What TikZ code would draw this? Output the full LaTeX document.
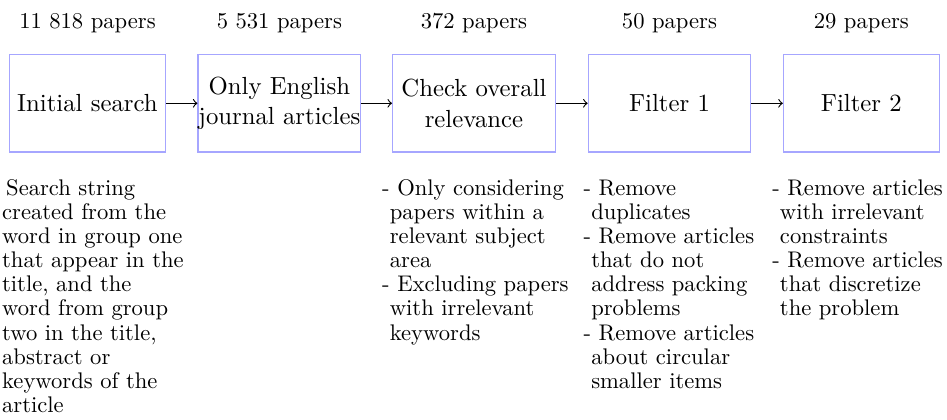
\documentclass[tikz,border=0pt]{standalone}
\tikzset{
  stage/.style={draw=blue!35, line width=0.5pt, inner sep=0pt, align=center,
    font=\fontsize{10.95}{13.6}\selectfont, minimum height=43.05pt},
  count/.style={anchor=base, inner sep=0pt},
  note/.style={anchor=base west, inner sep=0pt},
  flow/.style={->, line width=0.5pt}
}
\newcommand{\notetext}[1]{\parbox[t]{95pt}{\raggedright\baselineskip=10.7pt #1}}
\newcommand{\ind}{\hspace*{3.4pt}}
\begin{document}
\begin{tikzpicture}
\useasboundingbox (0,0) rectangle (419pt,-185.4pt);
% stages
\node[stage, minimum width=69.2pt] (b1) at (38.7pt,-45.7pt) {Initial search};
\node[stage, minimum width=72.0pt] (b2) at (123.6pt,-45.7pt) {Only English\\journal articles};
\node[stage, minimum width=72.0pt] (b3) at (209.7pt,-45.7pt) {Check overall\\relevance};
\node[stage, minimum width=71.9pt] (b4) at (296.2pt,-45.7pt) {Filter 1};
\node[stage, minimum width=69.0pt] (b5) at (381.1pt,-45.7pt) {Filter 2};
% arrows
\draw[flow] (b1) -- (b2);
\draw[flow] (b2) -- (b3);
\draw[flow] (b3) -- (b4);
\draw[flow] (b4) -- (b5);
% counts
\node[count] (n1) at (38.7pt,-12.4pt) {11 818 papers};
\node[count] (n2) at (123.6pt,-12.4pt) {5 531 papers};
\node[count] (n3) at (209.7pt,-12.4pt) {372 papers};
\node[count] (n4) at (296.2pt,-12.4pt) {50 papers};
\node[count] (n5) at (381.1pt,-12.4pt) {29 papers};
% notes
\node[note] (c1) at (0.75pt,-86.3pt) {\notetext{\hspace*{1.8pt}Search string\\
created from the\\
word in group one\\
that appear in the\\
title, and the\\
word from group\\
two in the title,\\
abstract or\\
keywords of the\\
article}};
\node[note] (c3) at (168.9pt,-86.3pt) {\notetext{- Only considering\\
\ind papers within a\\
\ind relevant subject\\
\ind area\\
- Excluding papers\\
\ind with irrelevant\\
\ind keywords}};
\node[note] (c4) at (258pt,-86.3pt) {\notetext{- Remove\\
\ind duplicates\\
- Remove articles\\
\ind that do not\\
\ind address packing\\
\ind problems\\
- Remove articles\\
\ind about circular\\
\ind smaller items}};
\node[note] (c5) at (341.5pt,-86.3pt) {\notetext{- Remove articles\\
\ind with irrelevant\\
\ind constraints\\
- Remove articles\\
\ind that discretize\\
\ind the problem}};
\end{tikzpicture}
\end{document}
